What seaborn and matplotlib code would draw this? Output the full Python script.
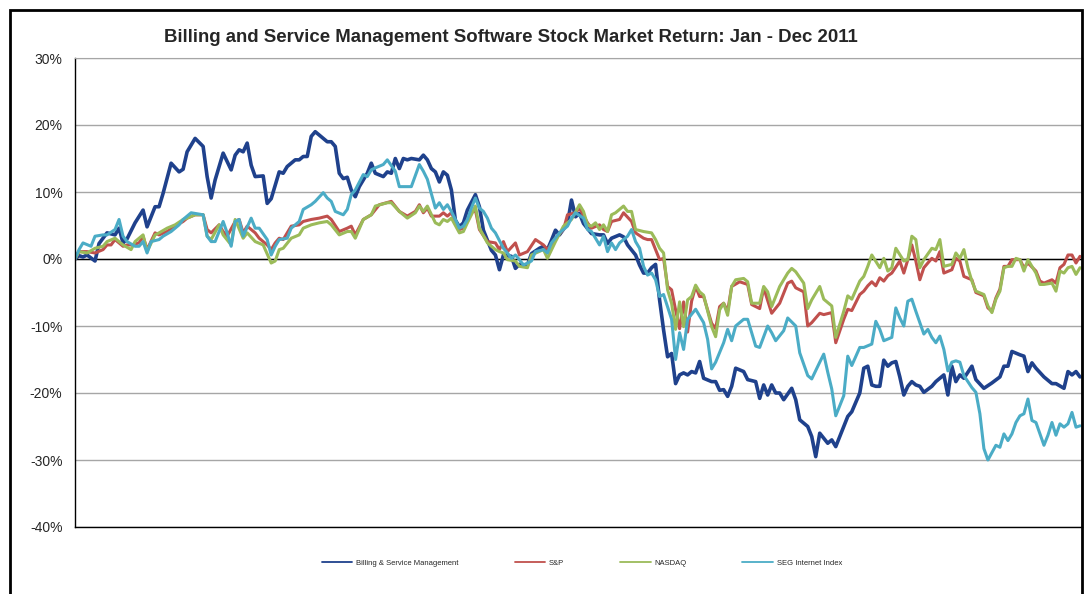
import pandas as pd
import matplotlib
matplotlib.use("Agg")
import matplotlib.pyplot as plt
import seaborn as sns

sns.set_style("white")
plt.rcParams['font.family'] = ['Liberation Sans', 'DejaVu Sans']
plt.rcParams['axes.unicode_minus'] = False

# cumulative return (%) by trading day, Jan - Dec 2011
bsm_day = [0, 1, 2, 3, 5, 6, 8, 10, 11, 12, 13, 15, 17, 18, 20, 21, 22, 24, 26, 27,
           28, 30, 32, 33, 34, 35, 37, 39, 40, 41, 42, 43, 44, 45, 47, 48, 49, 51, 52, 53,
           55, 56, 57, 58, 59, 60, 61, 63, 64, 65, 66, 67, 68, 69, 70, 71, 73, 74, 75, 77,
           78, 79, 80, 81, 82, 83, 84, 86, 87, 88, 89, 90, 91, 92, 93, 94, 95, 96, 97, 98,
           100, 101, 102, 104, 105, 106, 107, 109, 110, 111, 113, 114, 116, 117, 118, 119, 120, 121, 123, 124,
           125, 126, 127, 129, 131, 132, 133, 134, 136, 137, 138, 140, 141, 142, 143, 144, 145, 146, 147, 148,
           149, 150, 151, 152, 153, 154, 155, 156, 157, 159, 160, 161, 162, 163, 164, 165, 167, 168, 170, 171,
           172, 173, 174, 175, 176, 177, 179, 180, 181, 183, 184, 185, 186, 188, 189, 190, 192, 193, 194, 196,
           197, 198, 199, 200, 201, 202, 203, 204, 205, 206, 207, 208, 209, 210, 211, 212, 214, 215, 217, 218,
           219, 220, 221, 222, 224, 225, 227, 229, 231, 232, 233, 234, 236, 237, 238, 239, 240, 242, 244, 245,
           247, 248, 249, 250, 251]
bsm_ret = [0, 0.5, 0.3, 0.6, -0.3, 2.3, 3.9, 3.6, 4.6, 2.4, 3.0, 5.4, 7.3, 4.8, 7.8, 7.8, 9.8, 14.3, 13.0, 13.4,
           16.0, 18.0, 16.8, 12.3, 9.1, 11.8, 15.8, 13.3, 15.5, 16.3, 16.0, 17.3, 14.0, 12.3, 12.4, 8.3, 9.0, 13.0, 12.8, 13.8,
           14.8, 14.8, 15.3, 15.3, 18.3, 19.0, 18.5, 17.5, 17.5, 16.8, 12.8, 12.0, 12.2, 10.3, 9.3, 10.8, 12.8, 14.3, 12.8, 12.3,
           13.0, 12.8, 15.0, 13.5, 15.0, 14.8, 15.0, 14.8, 15.5, 14.8, 13.5, 13.0, 11.5, 13.0, 12.5, 10.3, 5.8, 4.8, 5.4, 7.3,
           9.6, 7.8, 4.3, 1.3, 0.6, -1.6, 0.6, 0.4, -1.4, -0.8, -0.9, 0.8, 1.6, 1.9, 1.4, 2.8, 4.3, 3.6, 5.3, 8.8,
           6.3, 6.8, 5.3, 3.8, 3.6, 3.6, 2.3, 3.1, 3.6, 3.3, 2.1, 0.6, -0.9, -2.1, -2.1, -1.3, -0.8, -6.1, -10.6, -14.6,
           -14.1, -18.6, -17.3, -17.0, -17.3, -16.8, -17.0, -15.3, -17.8, -18.3, -18.3, -19.6, -19.5, -20.5, -19.0, -16.3, -16.8, -18.0, -18.3, -20.8,
           -18.8, -20.3, -18.8, -20.0, -20.0, -21.0, -19.3, -21.0, -24.0, -25.0, -26.5, -29.5, -26.0, -27.5, -27.0, -28.0, -25.0, -23.5, -22.8, -20.0,
           -16.3, -16.0, -18.8, -19.0, -19.0, -15.1, -16.0, -15.5, -15.3, -17.6, -20.3, -19.0, -18.3, -18.8, -19.0, -19.9, -19.0, -18.3, -17.3, -20.3,
           -16.0, -18.3, -17.3, -17.8, -16.0, -18.0, -19.3, -18.5, -17.6, -16.0, -16.0, -13.8, -14.3, -14.5, -16.8, -15.5, -16.3, -17.6, -18.6, -18.6,
           -19.3, -16.8, -17.3, -16.8, -17.6]

sp_day = [0, 1, 3, 5, 7, 8, 9, 10, 12, 13, 14, 16, 17, 18, 20, 21, 23, 25, 27, 28,
          30, 32, 33, 34, 36, 37, 38, 40, 41, 42, 43, 45, 46, 48, 49, 50, 51, 52, 54, 56,
          57, 59, 61, 63, 64, 66, 68, 69, 70, 72, 74, 76, 79, 81, 83, 85, 86, 87, 88, 89,
          91, 92, 93, 94, 96, 97, 98, 99, 100, 101, 103, 105, 106, 107, 108, 110, 111, 113, 115, 117,
          118, 120, 122, 123, 125, 126, 128, 129, 131, 132, 133, 134, 136, 137, 139, 140, 142, 143, 144, 146,
          147, 148, 149, 150, 151, 152, 153, 154, 155, 156, 157, 159, 160, 161, 162, 163, 164, 166, 168, 169,
          171, 172, 174, 176, 178, 179, 180, 182, 183, 184, 186, 187, 189, 190, 192, 193, 194, 196, 197, 198,
          199, 200, 201, 202, 203, 204, 206, 207, 208, 209, 210, 211, 212, 214, 215, 216, 217, 219, 220, 221,
          222, 224, 225, 227, 228, 229, 230, 231, 232, 233, 234, 236, 237, 238, 240, 241, 242, 244, 245, 246,
          247, 248, 249, 250, 251]
sp_ret = [0.0, 1.1, 1.1, 0.9, 1.4, 2.1, 2.1, 2.9, 1.9, 2.1, 2.1, 2.4, 3.4, 1.4, 3.9, 3.6, 4.1, 4.9, 5.6, 6.1,
          6.6, 6.6, 4.4, 3.9, 5.1, 4.1, 3.4, 5.6, 5.9, 3.9, 4.9, 3.9, 3.1, 2.1, 1.4, 2.4, 3.1, 2.9, 4.9, 5.1,
          5.6, 5.9, 6.1, 6.4, 5.9, 4.1, 4.6, 4.9, 3.6, 5.9, 6.6, 8.1, 8.6, 7.1, 6.4, 7.1, 8.1, 6.9, 7.6, 6.4,
          6.4, 6.9, 6.4, 6.9, 4.4, 4.6, 5.6, 6.9, 7.3, 4.4, 2.6, 2.4, 1.4, 2.6, 1.1, 2.4, 0.6, 1.1, 2.9, 2.1,
          1.4, 3.1, 4.4, 6.6, 6.9, 7.6, 5.4, 4.6, 5.1, 4.4, 4.1, 5.6, 5.9, 6.9, 5.6, 3.9, 3.1, 2.9, 2.9, -0.1,
          0.1, -4.1, -4.6, -7.6, -10.4, -6.4, -10.9, -6.3, -4.1, -5.6, -5.6, -9.6, -10.4, -7.1, -6.6, -7.8, -4.1, -3.4, -3.8, -6.8,
          -7.4, -4.3, -8.1, -6.6, -3.6, -3.3, -4.3, -4.9, -10.0, -9.5, -8.1, -8.3, -8.0, -12.5, -9.0, -7.5, -7.7, -5.3, -4.8, -4.0,
          -3.4, -4.0, -2.8, -3.3, -2.5, -2.1, -0.3, -2.1, -0.1, 2.1, -0.3, -3.1, -1.3, 0.1, -0.3, 1.1, -2.1, -1.6, 0.1, -0.3,
          -2.6, -3.1, -5.0, -5.5, -7.3, -7.8, -5.8, -4.5, -1.1, -1.1, -0.1, -0.1, -1.3, -0.6, -1.8, -3.3, -3.6, -3.1, -3.6, -1.3,
          -0.8, 0.6, 0.6, -0.6, 0.4]

nq_day = [0, 1, 3, 5, 7, 8, 10, 12, 14, 15, 17, 18, 20, 21, 23, 25, 27, 28, 30, 32,
          33, 34, 36, 37, 39, 40, 42, 43, 45, 47, 49, 50, 51, 52, 54, 56, 57, 59, 61, 63,
          64, 66, 68, 69, 70, 72, 74, 75, 78, 79, 81, 83, 85, 86, 87, 88, 90, 91, 92, 93,
          94, 96, 97, 98, 99, 100, 101, 103, 105, 106, 107, 108, 110, 111, 113, 114, 117, 118, 120, 122,
          124, 126, 127, 128, 129, 130, 131, 132, 133, 134, 135, 137, 138, 139, 140, 142, 144, 145, 146, 147,
          148, 149, 150, 151, 152, 153, 154, 155, 156, 157, 159, 160, 161, 162, 163, 164, 165, 167, 168, 169,
          171, 172, 173, 174, 176, 178, 179, 180, 182, 183, 184, 186, 187, 189, 190, 192, 193, 194, 196, 197,
          198, 199, 201, 202, 203, 204, 205, 207, 208, 209, 210, 211, 212, 214, 215, 216, 217, 219, 220, 221,
          222, 223, 224, 225, 227, 228, 229, 230, 231, 232, 233, 234, 235, 236, 237, 238, 240, 241, 242, 244,
          245, 246, 247, 248, 249, 250, 251]
nq_ret = [0.0, 1.1, 0.9, 1.6, 1.9, 2.6, 3.1, 2.1, 1.4, 2.6, 3.6, 1.1, 3.6, 3.9, 4.6, 5.1, 5.9, 6.1, 6.6, 6.6,
          3.4, 2.9, 5.1, 3.6, 2.1, 5.9, 3.1, 3.9, 2.6, 2.1, -0.6, -0.3, 1.4, 1.6, 3.1, 3.6, 4.6, 5.1, 5.4, 5.6,
          5.1, 3.6, 4.1, 4.1, 3.1, 5.9, 6.6, 7.9, 8.4, 8.4, 7.1, 6.1, 6.9, 7.9, 7.1, 7.9, 5.4, 5.1, 5.9, 5.6,
          6.1, 3.9, 4.1, 5.4, 6.6, 7.9, 4.6, 2.4, 1.4, 1.1, 0.9, -0.1, -0.3, -1.1, -1.3, 0.6, 1.4, 0.1, 2.6, 4.9,
          5.9, 8.1, 7.1, 5.1, 4.9, 5.4, 4.4, 5.1, 4.1, 6.6, 6.9, 7.9, 7.1, 7.1, 4.4, 4.1, 3.9, 2.9, 1.6, 0.9,
          -4.6, -6.6, -10.5, -6.4, -10.1, -6.1, -5.6, -3.9, -4.9, -5.4, -10.1, -11.6, -7.6, -6.6, -8.4, -4.1, -3.1, -2.9, -3.4, -6.6,
          -6.6, -4.1, -4.9, -7.1, -4.1, -2.1, -1.4, -1.9, -3.6, -7.4, -6.1, -4.1, -6.0, -7.0, -11.7, -7.8, -5.5, -6.0, -3.3, -2.6,
          -1.1, 0.6, -1.3, 0.1, -1.8, -1.3, 1.6, -0.3, -0.1, 3.4, 2.9, -1.3, -0.1, 1.6, 1.4, 2.9, -1.1, -0.8, 0.9, 0.1,
          1.4, -1.3, -3.3, -4.8, -5.3, -7.0, -8.0, -6.0, -4.8, -1.3, -1.1, -1.1, 0.1, -0.1, -1.8, -0.1, -2.1, -3.8, -3.8, -3.6,
          -4.8, -1.8, -2.1, -1.3, -1.1, -2.3, -1.3]

seg_day = [0, 1, 2, 4, 5, 7, 8, 10, 11, 12, 13, 15, 16, 17, 18, 19, 21, 22, 24, 26,
           27, 29, 32, 33, 34, 35, 37, 38, 39, 40, 41, 42, 44, 45, 46, 48, 49, 50, 51, 53,
           54, 56, 57, 59, 60, 62, 63, 64, 65, 67, 68, 69, 70, 72, 73, 74, 75, 77, 78, 80,
           81, 83, 84, 86, 87, 88, 90, 91, 92, 93, 94, 95, 96, 97, 98, 99, 100, 101, 102, 103,
           104, 105, 107, 108, 109, 110, 111, 112, 114, 115, 117, 118, 119, 121, 123, 124, 125, 127, 128, 129,
           131, 132, 133, 134, 135, 136, 138, 139, 140, 141, 142, 143, 144, 145, 146, 147, 149, 150, 151, 152,
           153, 155, 157, 158, 159, 160, 162, 163, 164, 165, 167, 168, 169, 170, 171, 173, 174, 175, 177, 178,
           180, 181, 183, 184, 186, 187, 188, 189, 190, 192, 193, 194, 196, 197, 199, 200, 201, 202, 204, 205,
           206, 207, 208, 209, 210, 212, 213, 214, 215, 216, 217, 218, 219, 220, 221, 222, 224, 225, 226, 227,
           228, 230, 231, 232, 233, 234, 235, 236, 237, 238, 239, 240, 242, 243, 244, 245, 246, 247, 248, 249,
           250, 251]
seg_ret = [0.0, 1.4, 2.4, 1.9, 3.4, 3.6, 3.6, 4.4, 5.9, 3.4, 2.6, 1.9, 1.9, 2.6, 0.9, 2.6, 2.9, 3.4, 4.1, 5.1,
           5.9, 6.9, 6.6, 3.4, 2.6, 2.6, 5.6, 3.9, 1.9, 5.6, 5.9, 3.4, 6.1, 4.6, 4.6, 2.9, 0.6, 1.9, 2.9, 3.1,
           4.6, 5.6, 7.4, 8.1, 8.6, 9.9, 9.1, 8.6, 7.1, 6.6, 7.4, 9.6, 10.3, 12.6, 12.3, 13.3, 13.6, 14.1, 14.8, 13.1,
           10.8, 10.8, 10.8, 14.1, 13.1, 11.9, 7.6, 8.4, 7.4, 8.1, 7.1, 5.9, 4.6, 4.9, 5.9, 7.6, 9.1, 7.6, 7.1, 6.1,
           4.6, 3.9, 1.6, 0.9, 0.1, 0.6, -0.1, -0.9, -0.3, 1.1, 1.4, 0.9, 2.4, 3.9, 4.9, 6.1, 6.9, 6.1, 4.4, 4.1,
           2.1, 3.4, 1.1, 2.4, 1.4, 2.4, 3.4, 4.4, 2.6, 1.6, -1.1, -2.4, -2.1, -3.1, -5.6, -5.3, -9.0, -15.0, -11.0, -13.5,
           -9.0, -7.5, -9.5, -12.0, -16.4, -15.4, -12.5, -10.5, -12.2, -10.0, -9.0, -9.0, -11.0, -13.0, -13.2, -10.0, -11.0, -12.2, -10.7, -8.8,
           -10.0, -14.0, -17.4, -17.9, -15.4, -14.2, -16.9, -19.4, -23.4, -20.4, -14.5, -15.9, -13.2, -13.2, -12.7, -9.3, -10.5, -12.2, -11.7, -7.3,
           -8.8, -10.0, -6.3, -6.0, -7.8, -11.2, -10.5, -11.7, -12.5, -11.5, -13.5, -16.7, -15.4, -15.2, -15.4, -17.4, -19.2, -19.9, -23.1, -28.3,
           -30.0, -27.8, -28.1, -26.1, -27.1, -26.1, -24.4, -23.4, -23.1, -20.9, -24.1, -24.4, -27.8, -26.3, -24.4, -26.3, -24.6, -25.1, -24.6, -22.9,
           -25.1, -24.9]

series_names = ['Billing & Service Management', 'S&P', 'NASDAQ', 'SEG Internet Index']
series_colors = ['#1F418C', '#C0504D', '#9BBB59', '#4BACC6']
series_widths = [2.6, 2.2, 2.2, 2.2]
y_ticks = [30, 20, 10, 0, -10, -20, -30, -40]

frames = []
for name, days, rets in zip(series_names,
                            [bsm_day, sp_day, nq_day, seg_day],
                            [bsm_ret, sp_ret, nq_ret, seg_ret]):
    frames.append(pd.DataFrame({'day': days, 'ret': rets, 'series': name}))
df = pd.concat(frames, ignore_index=True)

fig = plt.figure(figsize=(10.84, 5.94), dpi=100)
ax = fig.add_axes([75 / 1084, 1 - 527 / 594, 1007 / 1084, 469 / 594])

for name, color, lw in zip(series_names, series_colors, series_widths):
    sns.lineplot(data=df[df['series'] == name], x='day', y='ret', color=color,
                 linewidth=lw, label=name, ax=ax, estimator=None, sort=False)

ax.set_xlim(0, 251.5)
ax.set_ylim(-40, 30)
ax.set_yticks(y_ticks)
ax.set_yticklabels([f"{t}%" for t in y_ticks], fontsize=10)
ax.set_xticks([])
ax.set_xlabel('')
ax.set_ylabel('')
ax.tick_params(axis='y', length=0, pad=9)
ax.grid(axis='y', color='#a6a6a6', linewidth=1)
ax.set_axisbelow(True)
ax.axhline(0, color='black', linewidth=1, zorder=1.5)
for side in ['left', 'bottom', 'right']:
    ax.spines[side].set_color('black')
    ax.spines[side].set_linewidth(1)
ax.spines['top'].set_color('#a6a6a6')

fig.text(511 / 1084, 1 - 37 / 594, 'Billing and Service Management Software Stock Market Return: Jan - Dec 2011',
         ha='center', va='center', fontsize=13.4, fontweight='bold')

leg = ax.legend(loc='center', bbox_to_anchor=(582 / 1084, 1 - 563 / 594), bbox_transform=fig.transFigure,
                ncol=4, frameon=False, fontsize=5.5, handlelength=4, handletextpad=0.5, columnspacing=7.3)
for line in leg.get_lines():
    line.set_linewidth(1.3)

# outer chart border
fig.add_artist(plt.Rectangle((10 / 1084, -0.05), 1072 / 1084, 1 - 10 / 594 + 0.05,
                             transform=fig.transFigure, fill=False, edgecolor='black',
                             linewidth=2, clip_on=False))

fig.savefig('out.png', dpi=100)
